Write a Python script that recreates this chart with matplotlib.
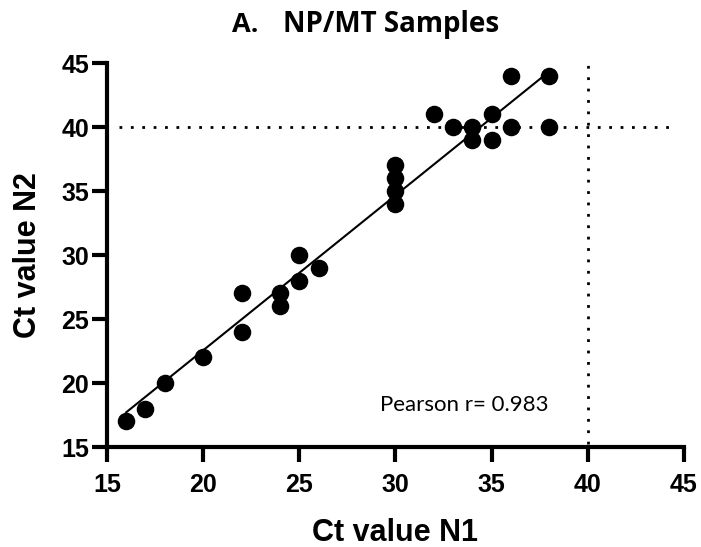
import numpy as np
import matplotlib
matplotlib.use("Agg")
import matplotlib.pyplot as plt

# Ct values
n1 = [16, 17, 18, 20, 22, 22, 24, 24, 25, 25, 26, 30, 30, 30, 30,
      32, 33, 34, 34, 35, 35, 36, 36, 38, 38]
n2 = [17, 18, 20, 22, 27, 24, 27, 26, 30, 28, 29, 37, 36, 35, 34,
      41, 40, 40, 39, 41, 39, 44, 40, 44, 40]
ticks = [15, 20, 25, 30, 35, 40, 45]
cutoff = 40
pearson_label = "Pearson r= 0.983"

fig = plt.figure(figsize=(7.01, 5.47), dpi=100)
ax = fig.add_axes([0.1526, 0.1828, 0.823, 0.702])

# linear fit over the data range
slope, intercept = np.polyfit(n1, n2, 1)
xs = np.array([min(n1), max(n1)])
ax.plot(xs, slope * xs + intercept, color="black", lw=1.5, zorder=2)

ax.scatter(n1, n2, s=135, color="black", zorder=3, clip_on=False)

# cutoff lines
dots = (0, (1, 3.1))
ax.plot([15.6, 44.6], [cutoff, cutoff], color="black", lw=2, ls=dots, zorder=1)
ax.plot([cutoff, cutoff], [15.2, 45], color="black", lw=2, ls=dots, zorder=1)

ax.set_xlim(15, 45)
ax.set_ylim(15, 45)
ax.set_xticks(ticks)
ax.set_yticks(ticks)

for side in ["top", "right"]:
    ax.spines[side].set_visible(False)
for side in ["left", "bottom"]:
    ax.spines[side].set_linewidth(3)
ax.tick_params(width=3, length=11, labelsize=18)
ax.tick_params(axis="x", pad=8)
ax.tick_params(axis="y", pad=2)
for lab in ax.get_xticklabels() + ax.get_yticklabels():
    lab.set_fontweight("bold")
    lab.set_family("Liberation Sans")

ax.set_xlabel("Ct value N1", fontsize=22, fontweight="bold", family="Liberation Sans", labelpad=15)
ax.set_ylabel("Ct value N2", fontsize=22, fontweight="bold", family="Liberation Sans", labelpad=13)

ax.text(29.2, 18.3, pearson_label, fontsize=16, family="Lato", va="center", ha="left")

# title: panel letter and name placed separately (wide gap in original)
fig.text(0.331, 0.9415, "A.", fontsize=19.5, fontweight="bold",
         family="Open Sans", ha="left", va="baseline")
fig.text(0.404, 0.9415, "NP/MT Samples", fontsize=20, fontweight="bold",
         family="Open Sans", ha="left", va="baseline")

fig.savefig("out.png", dpi=100)
